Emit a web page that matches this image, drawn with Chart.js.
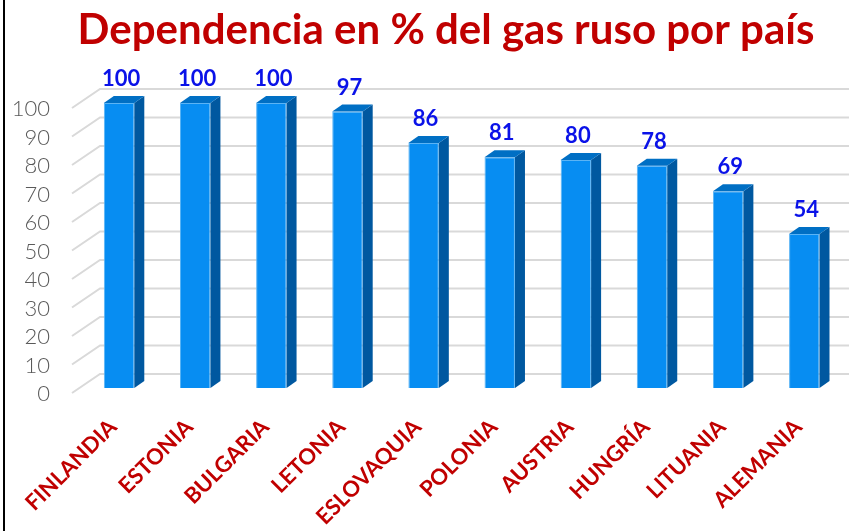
<!DOCTYPE html>
<html>
<head>
<meta charset="utf-8">
<script src="https://cdn.jsdelivr.net/npm/chart.js@4.4.1/dist/chart.umd.min.js"></script>
<style>
  body { margin: 0; background: #ffffff; }
  canvas { display: block; }
</style>
</head>
<body>
<canvas id="grafico" width="849" height="531"></canvas>
<script>
// datos del gráfico
var paises = ['FINLANDIA', 'ESTONIA', 'BULGARIA', 'LETONIA', 'ESLOVAQUIA', 'POLONIA', 'AUSTRIA', 'HUNGRÍA', 'LITUANIA', 'ALEMANIA'];
var dependencia = [100, 100, 100, 97, 86, 81, 80, 78, 69, 54];
var ejeMin = 0;
var ejeMax = 100;
var ejePaso = 10;
var titulo = 'Dependencia en % del gas ruso por país';

// colores
var colorFrente = '#078DF2';
var colorLado = '#0058A0';
var colorTapa = '#006FC4';

// profundidad del efecto 3D
var prof = { dx: 10, dy: -7 };

// titulo + marco izquierdo
var tituloPlugin = {
    id: 'tituloPlugin',
    afterDraw: function (chart) {
        var ctx = chart.ctx;
        ctx.save();
        ctx.fillStyle = '#000000';
        ctx.fillRect(3, 0, 2, chart.height);
        ctx.fillStyle = '#C00000';
        ctx.font = 'bold 42px Lato, "DejaVu Sans", sans-serif';
        ctx.textAlign = 'center';
        ctx.textBaseline = 'middle';
        ctx.fillText(titulo, 446, 30);
        ctx.restore();
    }
};

// rejilla en perspectiva (pared de fondo + suelo)
var rejilla3D = {
    id: 'rejilla3D',
    beforeDatasetsDraw: function (chart) {
        var ctx = chart.ctx;
        var y = chart.scales.y;
        ctx.save();
        ctx.strokeStyle = '#D9D9D9';
        ctx.lineWidth = 2;
        for (var v = ejeMin; v <= ejeMax; v += ejePaso) {
            var py = y.getPixelForValue(v);
            ctx.beginPath();
            ctx.moveTo(72, py + 5);
            ctx.lineTo(100, py - 14);
            ctx.lineTo(chart.width, py - 14);
            ctx.stroke();
        }
        ctx.restore();
    }
};

// caras laterales, tapas y etiquetas de valor
var barras3D = {
    id: 'barras3D',
    afterDatasetsDraw: function (chart) {
        var ctx = chart.ctx;
        var meta = chart.getDatasetMeta(0);
        ctx.save();
        meta.data.forEach(function (bar, i) {
            var izq = bar.x - bar.width / 2;
            var der = bar.x + bar.width / 2;
            // lado
            ctx.fillStyle = colorLado;
            ctx.beginPath();
            ctx.moveTo(der, bar.y);
            ctx.lineTo(der + prof.dx, bar.y + prof.dy);
            ctx.lineTo(der + prof.dx, bar.base + prof.dy);
            ctx.lineTo(der, bar.base);
            ctx.closePath();
            ctx.fill();
            // tapa
            ctx.fillStyle = colorTapa;
            ctx.beginPath();
            ctx.moveTo(izq, bar.y);
            ctx.lineTo(izq + prof.dx, bar.y + prof.dy);
            ctx.lineTo(der + prof.dx, bar.y + prof.dy);
            ctx.lineTo(der, bar.y);
            ctx.closePath();
            ctx.fill();
            // valor
            ctx.fillStyle = '#0A12E8';
            ctx.font = 'bold 22px Lato, "DejaVu Sans", sans-serif';
            ctx.textAlign = 'center';
            ctx.textBaseline = 'middle';
            ctx.fillText(dependencia[i], bar.x + 2, bar.y - 24);
        });
        ctx.restore();
    }
};

var ctx = document.getElementById('grafico').getContext('2d');
new Chart(ctx, {
    type: 'bar',
    data: {
        labels: paises,
        datasets: [{
            data: dependencia,
            backgroundColor: colorFrente,
            borderColor: '#5BB4F5',
            borderWidth: 1,
            barPercentage: 0.4,
            categoryPercentage: 1.0
        }]
    },
    options: {
        responsive: false,
        animation: false,
        layout: { padding: { top: 103, right: 1, left: 0, bottom: 0 } },
        plugins: {
            legend: { display: false },
            title: { display: false },
            tooltip: { enabled: false }
        },
        scales: {
            x: {
                grid: { display: false, drawTicks: false },
                border: { display: false },
                ticks: {
                    color: '#C00000',
                    font: { family: 'Lato, "DejaVu Sans", sans-serif', size: 22, weight: 'bold' },
                    minRotation: 45,
                    maxRotation: 45,
                    padding: 26,
                    labelOffset: -6,
                    autoSkip: false
                },
                afterFit: function (scale) { scale.height = 143; }
            },
            y: {
                min: ejeMin,
                max: ejeMax,
                grid: { display: false, drawTicks: false },
                border: { display: false },
                ticks: {
                    stepSize: ejePaso,
                    autoSkip: false,
                    color: '#595959',
                    font: { family: 'Lato, "DejaVu Sans", sans-serif', size: 22, weight: '300' },
                    padding: 31,
                    labelOffset: 6
                },
                afterFit: function (scale) { scale.width = 81; }
            }
        }
    },
    plugins: [rejilla3D, barras3D, tituloPlugin]
});
</script>
</body>
</html>
